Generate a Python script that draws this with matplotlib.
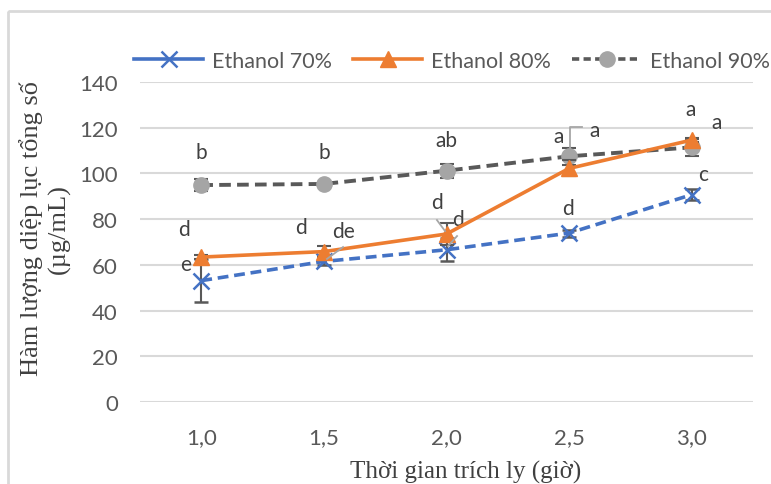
import matplotlib.pyplot as plt
from matplotlib.patches import Rectangle
from matplotlib.lines import Line2D

# Dữ liệu
thoi_gian = ['1,0', '1,5', '2,0', '2,5', '3,0']
e70 = [53.1, 61.5, 66.6, 73.9, 90.7]
e70_err = [9.5, 1.5, 5.0, 1.5, 2.5]
e80 = [63.4, 65.8, 73.5, 102.2, 114.6]
e80_err = [1.0, 2.5, 5.0, 3.5, 1.0]
e90 = [94.9, 95.4, 101.2, 107.5, 111.4]
e90_err = [2.7, 1.0, 3.0, 3.6, 3.7]

# Chữ cái thống kê: (vị trí x, vị trí y, nhãn)
nhan_chu = [(0, 109.4, 'b'), (1, 109.4, 'b'), (2, 114.6, 'ab'), (2.91, 116.4, 'a'),
            (3.21, 119.0, 'a'), (3.99, 128.0, 'a'), (4.2, 122.5, 'a'), (4.09, 99.7, 'c'),
            (-0.14, 75.7, 'd'), (-0.125, 60.4, 'e'), (0.81, 76.6, 'd'), (1.16, 74.8, 'de'),
            (1.92, 87.5, 'd'), (2.09, 80.0, 'd'), (2.99, 84.9, 'd')]
duong_dan = [([1.156, 1.025], [67.8, 62.6]),
             ([1.922, 1.988], [79.6, 74.8]),
             ([2.086, 2.012], [72.6, 68.2]),
             ([3.105, 3.007, 3.007], [120.3, 120.3, 109.8])]

sans = ['Lato', 'DejaVu Sans']
serif = ['Liberation Serif', 'DejaVu Serif']
plt.rcParams['font.family'] = sans

fig = plt.figure(figsize=(7.71, 4.85), dpi=100)
ax = fig.add_axes([140 / 771, 1 - 403 / 485, 613 / 771, 320 / 485])
fig.patches.append(Rectangle((8 / 771, 1 - 12 / 485), 2, -2, transform=fig.transFigure,
                             fill=False, edgecolor='#d9d9d9', linewidth=2))

x = list(range(len(thoi_gian)))
err_kw = dict(ecolor='#595959', elinewidth=1.5, capsize=5, capthick=1.5)
dash = (0, (3, 1.6))

ax.errorbar(x, e70, yerr=e70_err, color='#4472C4', linestyle=dash, linewidth=2.6,
            marker='x', markersize=11, markeredgewidth=1.8, clip_on=False, zorder=3, **err_kw)
ax.errorbar(x, e80, yerr=e80_err, color='#ED7D31', linestyle='-', linewidth=2.6,
            marker='^', markersize=11, clip_on=False, zorder=4, **err_kw)
ax.errorbar(x, e90, yerr=e90_err, color='#595959', linestyle=dash, linewidth=2.8,
            marker='o', markersize=11, markerfacecolor='#A5A5A5', markeredgecolor='#A5A5A5',
            clip_on=False, zorder=2, **err_kw)

for xx, yy in duong_dan:
    ax.plot(xx, yy, color='#A6A6A6', linewidth=1.3, zorder=5, clip_on=False)
for xt, yt, s in nhan_chu:
    ax.text(xt, yt, s, ha='center', va='center', fontsize=15, color='#404040')

ax.set_xlim(-0.5, 4.5)
ax.set_ylim(0, 140)
ax.set_yticks(range(0, 141, 20))
ax.set_xticks(x)
ax.set_xticklabels(thoi_gian)
ax.grid(True, axis='y', color='#d9d9d9', linewidth=1.5)
ax.set_axisbelow(True)
for sp in ax.spines.values():
    sp.set_visible(False)
ax.tick_params(length=0, labelsize=16, labelcolor='#595959')
ax.tick_params(axis='y', pad=16)
ax.tick_params(axis='x', pad=18)

fig.text(45 / 771, 1 - 229 / 485, 'Hàm lượng diệp lục tổng số\n(µg/mL)', rotation=90,
         ha='center', va='center', multialignment='center', fontsize=19,
         family=serif, color='#404040', linespacing=1.25)
fig.text(466 / 771, 1 - 461 / 485, 'Thời gian trích ly (giờ)', ha='center', va='top',
         fontsize=18, family=serif, color='#404040')

handles = [
    Line2D([], [], color='#4472C4', linewidth=2.6, marker='x', markersize=11,
           markeredgewidth=1.8),
    Line2D([], [], color='#ED7D31', linewidth=2.6, marker='^', markersize=11),
    Line2D([], [], color='#595959', linewidth=2.6, linestyle=(0, (2, 1.2)), marker='o',
           markersize=11, markerfacecolor='#A5A5A5', markeredgecolor='#A5A5A5'),
]
fig.legend(handles, ['Ethanol 70%', 'Ethanol 80%', 'Ethanol 90%'], loc='center',
           bbox_to_anchor=(452 / 771, 1 - 62 / 485), ncol=3, frameon=False,
           fontsize=15.5, handlelength=3.2, handletextpad=0.4, columnspacing=1.0,
           labelcolor='#595959')

fig.savefig('out.png', dpi=100)
